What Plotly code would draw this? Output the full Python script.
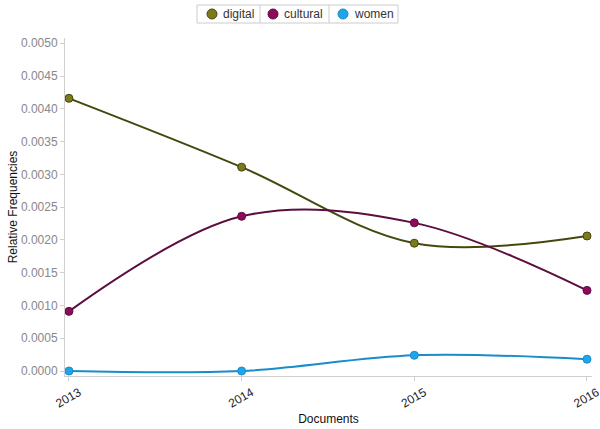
import plotly.graph_objects as go

years = [2013, 2014, 2015, 2016]
year_labels = ["2013", "2014", "2015", "2016"]
digital = [0.00416, 0.00311, 0.00195, 0.00206]
cultural = [0.00091, 0.00236, 0.00226, 0.00123]
women = [0.00000, 0.00000, 0.00024, 0.00018]

series = [
    ("digital", digital, "#45470f", "#7b7b1c"),
    ("cultural", cultural, "#5c0e3e", "#8e0b5c"),
    ("women", women, "#1a8ccc", "#1fa6ea"),
]

W, H = 600, 429
ML, MR, MT, MB = 65, 8, 38, 53
PW, PH = W - ML - MR, H - MT - MB


def px(x):
    return (x - ML) / PW


def py(y):
    return (H - MB - y) / PH


fig = go.Figure()
for name, vals, lc, mc in series:
    fig.add_trace(go.Scatter(
        x=years, y=vals, mode="lines+markers", name=name,
        line=dict(color=lc, width=2, shape="spline", smoothing=1.0),
        marker=dict(size=8, color=mc, line=dict(color=lc, width=1)),
        showlegend=False,
    ))

# custom legend box (top centre)
shapes = [dict(type="rect", xref="paper", yref="paper",
               x0=px(197), x1=px(398), y0=py(5), y1=py(23),
               line=dict(color="#cccccc", width=1), fillcolor="white", layer="above")]
for sx in (260, 329):
    shapes.append(dict(type="line", xref="paper", yref="paper",
                       x0=px(sx), x1=px(sx), y0=py(5), y1=py(23),
                       line=dict(color="#cccccc", width=1)))
annotations = []
legend_pos = [(212, 221), (273, 282), (343, 352)]
for (name, vals, lc, mc), (cx, tx) in zip(series, legend_pos):
    shapes.append(dict(type="circle", xref="paper", yref="paper",
                       x0=px(cx - 5), x1=px(cx + 5), y0=py(9), y1=py(19),
                       fillcolor=mc, line=dict(color=lc, width=1)))
    annotations.append(dict(text=name, xref="paper", yref="paper",
                            x=px(tx), y=py(14), xanchor="left", yanchor="middle",
                            showarrow=False, font=dict(size=12, color="#333")))

fig.update_layout(
    width=W, height=H,
    margin=dict(l=ML, r=MR, t=MT, b=MB, autoexpand=False),
    plot_bgcolor="white", paper_bgcolor="white",
    showlegend=False,
    shapes=shapes, annotations=annotations,
    font=dict(family="Liberation Sans, Arial, sans-serif", size=12, color="#333"),
    xaxis=dict(range=[2012.977, 2016.029], tickvals=years, ticktext=year_labels,
               tickangle=-30, ticklabelshift=10, ticklabeloverflow="allow",
               showgrid=False, zeroline=False,
               showline=True, linecolor="#d0d0d0", ticks="outside", ticklen=4,
               tickcolor="#d0d0d0", tickfont=dict(color="#222", size=12),
               automargin=False,
               title=dict(text="Documents", font=dict(size=12, color="#111"), standoff=5)),
    yaxis=dict(range=[-0.0000762, 0.00508], tickvals=[i * 0.0005 for i in range(11)],
               tickformat=".4f", showgrid=False, zeroline=False,
               showline=True, linecolor="#d0d0d0", ticks="outside", ticklen=4,
               tickcolor="#d0d0d0", tickfont=dict(color="#888", size=12),
               automargin=False,
               title=dict(text="Relative Frequencies", font=dict(size=12, color="#111"), standoff=0)),
)

fig.write_html("out.html", config={"displayModeBar": False},
               post_script="document.body.style.margin='0';")
